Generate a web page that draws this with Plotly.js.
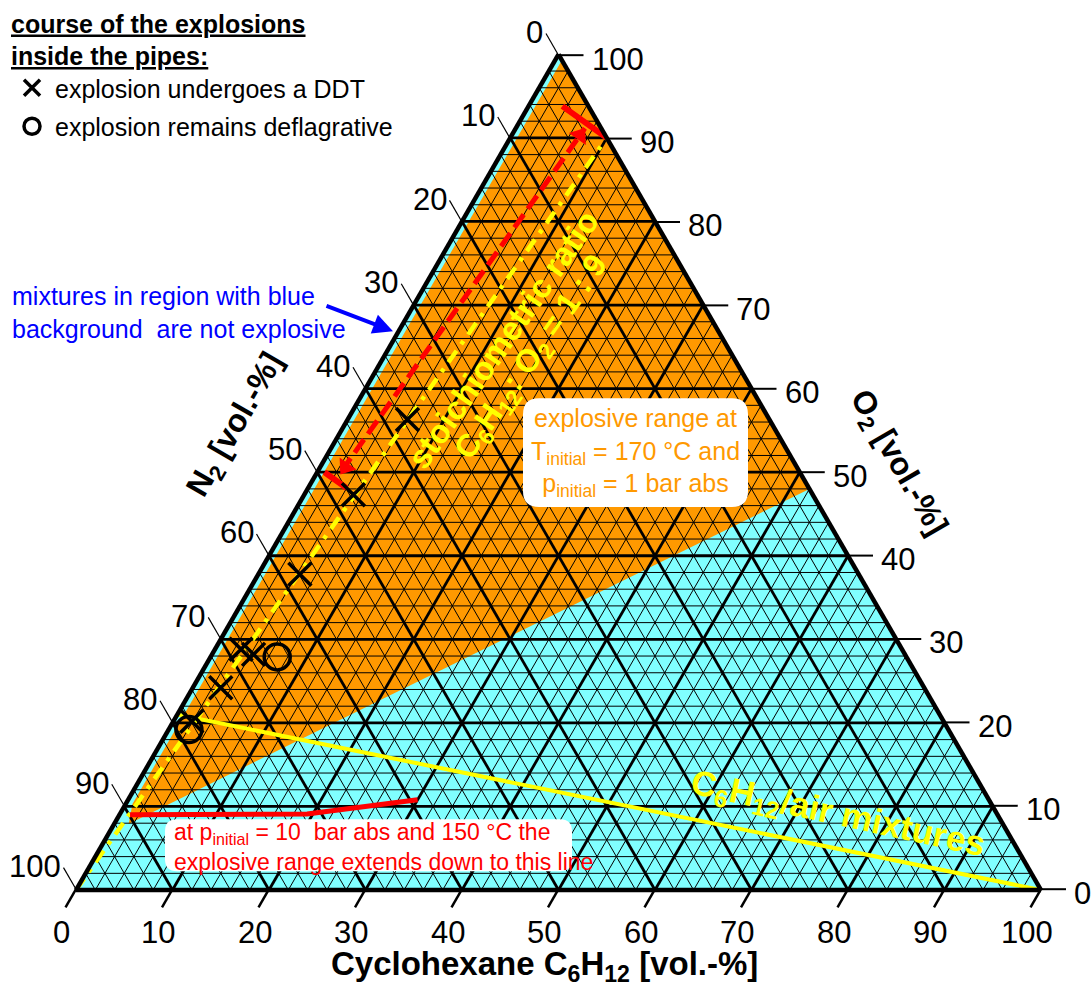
<!DOCTYPE html>
<html><head><meta charset="utf-8">
<script src="https://cdn.plot.ly/plotly-3.0.1.min.js"></script>
<style>html,body{margin:0;padding:0;background:#fff}</style>
</head><body><div id="chart" style="width:1092px;height:988px"></div>
<script>
// ---- data (vol.-%): O2 (top), N2 (bottom-left), C6H12 (bottom-right) ----
const tickValues = [0,10,20,30,40,50,60,70,80,90,100];

// explosions undergoing a DDT
const ddtO2 = [56.3, 47.3, 37.8, 28.8, 28.2, 24.2, 20.2];
const ddtN2 = [37.5, 47.6, 57.9, 68.5, 67.5, 72.9, 77.9];
const ddtC  = [6.2, 5.1, 4.3, 2.7, 4.3, 2.9, 1.9];
// explosions remaining deflagrative
const deflO2 = [27.9, 19.2];
const deflN2 = [65.2, 78.7];
const deflC  = [6.9, 2.1];
// explosive range at 170 °C, 1 bar abs
const explO2 = [99.3, 10.3, 7.9, 48.0];
const explN2 = [0.0, 89.0, 90.6, 0.0];
const explC  = [0.7, 0.7, 1.5, 52.0];
// C6H12/air mixtures
const airO2 = [21, 0];
const airN2 = [79, 0];
const airC  = [0, 100];
// stoichiometric ratio C6H12 : O2 = 1 : 9
const stoO2 = [0, 90];
const stoN2 = [100, 0];
const stoC  = [0, 10];
// lower limit at 10 bar abs and 150 °C
const p10O2 = [9.0, 9.1, 10.8];
const p10N2 = [89.9, 71.5, 59.2];
const p10C  = [1.1, 19.4, 30.0];
// red dimension arrow
const arrO2 = [50.1, 91.15];
const arrN2 = [47.45, 1.69];
const arrC  = [2.45, 7.16];
const headO2 = [50.6, 90.3];
const headN2 = [46.77, 2.63];
const headC  = [2.63, 7.07];
const barTopO2 = [93.8, 90.0], barTopN2 = [2.7, 0.0], barTopC = [3.5, 10.0];
const barBotO2 = [50.0, 48.1], barBotN2 = [49.25, 47.9], barBotC = [0.75, 4.0];

const W = 1092, H = 988;
const FONT = 'Liberation Sans, Arial, sans-serif';
const px = x => x / W, py = y => 1 - y / H;

// triangle frame (pixels) -> ternary domain
const BLX = 76, BRX = 1041, BASEY = 889;
const SIDE = BRX - BLX, HT = SIDE * Math.sqrt(3) / 2;
const CY = BASEY - HT / 2;
const domX = [px(BLX), px(BRX)];
const domY = [py(CY) - 0.44, py(CY) + 0.44];
// same projection the ternary uses (a = O2, c = C6H12)
function proj(a, c) {
  return {x: BLX + c / 100 * SIDE + a / 100 * SIDE / 2, y: BASEY - a / 100 * HT};
}

function grid(step, width) {
  const a = [], b = [], c = [];
  for (let v = step; v < 100; v += step) {
    a.push(v, v, null);         b.push(100 - v, 0, null);   c.push(0, 100 - v, null);
    a.push(100 - v, 0, null);   b.push(v, v, null);         c.push(0, 100 - v, null);
    a.push(100 - v, 0, null);   b.push(0, 100 - v, null);   c.push(v, v, null);
  }
  return {type:'scatterternary', mode:'lines', a:a, b:b, c:c,
          line:{color:'black', width:width}, hoverinfo:'skip', showlegend:false};
}
function seg(a, b, c, color, width, dash) {
  return {type:'scatterternary', mode:'lines', a:a, b:b, c:c,
          line:{color:color, width:width, dash:dash || 'solid'}, hoverinfo:'skip', showlegend:false};
}

const traces = [
  {type:'scatterternary', mode:'lines', a:explO2, b:explN2, c:explC, fill:'toself',
   fillcolor:'#FF9900', line:{width:0, color:'#FF9900'}, hoverinfo:'skip', showlegend:false},
  grid(2, 1),
  grid(10, 2.8),
  seg(stoO2, stoN2, stoC, '#FFFF00', 4.5, '14px,8px,4px,8px'),
  seg(arrO2, arrN2, arrC, '#FF0000', 5, '16px,7px'),
  seg(barTopO2, barTopN2, barTopC, '#FF0000', 6),
  seg(barBotO2, barBotN2, barBotC, '#FF0000', 6),
  {type:'scatterternary', mode:'markers', a:headO2, b:headN2, c:headC,
   marker:{symbol:'triangle-up', size:18, color:'#FF0000', angle:[215, 35], line:{width:0}},
   hoverinfo:'skip', showlegend:false},
  seg(airO2, airN2, airC, '#FFFF00', 4),
  seg(p10O2, p10N2, p10C, '#FF0000', 5),
  {type:'scatterternary', mode:'markers', name:'explosion undergoes a DDT',
   a:ddtO2, b:ddtN2, c:ddtC, legendgroup:'g1',
   marker:{symbol:'x-thin-open', size:23, color:'black', line:{width:3.5, color:'black'}}},
  {type:'scatterternary', mode:'markers', name:'explosion remains deflagrative',
   a:deflO2, b:deflN2, c:deflC, legendgroup:'g2',
   marker:{symbol:'circle-open', size:26, color:'black', line:{width:3.5, color:'black'}}}
];

function axis() {
  return {ticks:'', showticklabels:false, showgrid:false, linewidth:4.5, linecolor:'black',
          layer:'above traces', min:0, title:{text:''}};
}

function roundRect(x0, y0, x1, y1, r) {
  const P = (x, y) => px(x) + ',' + py(y);
  return 'M' + P(x0 + r, y0) + ' L' + P(x1 - r, y0) + ' Q' + P(x1, y0) + ' ' + P(x1, y0 + r) +
         ' L' + P(x1, y1 - r) + ' Q' + P(x1, y1) + ' ' + P(x1 - r, y1) +
         ' L' + P(x0 + r, y1) + ' Q' + P(x0, y1) + ' ' + P(x0, y1 - r) +
         ' L' + P(x0, y0 + r) + ' Q' + P(x0, y0) + ' ' + P(x0 + r, y0) + ' Z';
}

function ann(text, x, y, size, color, extra) {
  return Object.assign({text:text, x:px(x), y:py(y), xref:'paper', yref:'paper',
    xanchor:'center', yanchor:'middle', showarrow:false,
    font:{family:FONT, size:size, color:color}}, extra || {});
}

const shapes = [
  {type:'path', xref:'paper', yref:'paper', layer:'above', path:roundRect(523, 397, 748, 506, 16),
   fillcolor:'white', line:{width:0}},
  {type:'path', xref:'paper', yref:'paper', layer:'above', path:roundRect(165, 819, 572, 871, 12),
   fillcolor:'white', line:{width:0}}
];
const annotations = [];

// ---- axis ticks and tick labels, oriented along the grid lines as in the original ----
const TL = 25, LBL = 31;
function tickLine(p, e, w) {
  shapes.push({type:'line', xref:'paper', yref:'paper', layer:'above',
    x0:px(p.x), y0:py(p.y), x1:px(e.x), y1:py(e.y), line:{color:'black', width:w}});
}
tickValues.forEach(v => {
  // N2 on the left edge (C6H12 = 0)
  let p = proj(100 - v, 0);
  let e = {x:p.x - 0.5 * TL, y:p.y - 0.866 * TL};
  tickLine(p, e, 1.2);
  annotations.push(ann(String(v), e.x - 2, e.y - 1, LBL, 'black', {xanchor:'right', borderpad:0}));
  // O2 on the right edge (N2 = 0)
  p = proj(v, 100 - v);
  e = {x:p.x + TL, y:p.y};
  tickLine(p, e, 2);
  annotations.push(ann(String(v), e.x + 7, e.y + 4, LBL, 'black', {xanchor:'left', borderpad:0}));
  // C6H12 on the bottom edge (O2 = 0)
  p = proj(0, v);
  e = {x:p.x - 0.5 * 21, y:p.y + 0.866 * 21};
  tickLine(p, e, 2.5);
  annotations.push(ann(String(v), e.x - 4, e.y + 25, LBL, 'black', {borderpad:0}));
});

annotations.push(
  ann('mixtures in region with blue<br>background  are not explosive', 10, 311, 25, '#0000FF',
      {xanchor:'left', align:'left'}),
  ann('', 393, 330, 12, '#0000FF', {showarrow:true, ax:-68, ay:-26, arrowcolor:'#0000FF',
      arrowwidth:4, arrowhead:2, arrowsize:1}),
  ann('<b>stoichiometric ratio</b>', 503, 338, 33, '#FFFF00', {textangle:-55}),
  ann('<b>C<sub>6</sub>H<sub>12</sub>: O<sub>2</sub> = 1 : 9</b>', 532, 357, 32, '#FFFF00', {textangle:-55}),
  ann('explosive range at<br>T<sub>initial</sub> = 170 °C and<br>p<sub>initial</sub> = 1 bar abs',
      635.5, 451, 25, '#FF9900', {align:'center'}),
  ann('at p<sub>initial</sub> = 10  bar abs and 150 °C the<br>explosive range extends down to this line',
      172, 847, 23, '#FF0000', {xanchor:'left', align:'left'}),
  ann('<b>C<sub>6</sub>H<sub>12</sub>/air mixtures</b>', 838, 815, 35, '#FFFF00', {textangle:12.2}),
  ann('<b>Cyclohexane C<sub>6</sub>H<sub>12</sub> [vol.-%]</b>', 544, 966, 33, 'black', {borderpad:0}),
  ann('<b>N<sub>2</sub> [vol.-%]</b>', 236, 424, 32, 'black', {textangle:-60}),
  ann('<b>O<sub>2</sub> [vol.-%]</b>', 898, 462, 32, 'black', {textangle:60})
);

const layout = {
  width:W, height:H, margin:{l:0, r:0, t:0, b:0}, paper_bgcolor:'white',
  showlegend:true, hovermode:false,
  legend:{x:px(9), y:py(-2), xanchor:'left', yanchor:'top', bgcolor:'rgba(0,0,0,0)',
          itemwidth:36, font:{family:FONT, size:25, color:'black'}, tracegroupgap:3,
          title:{text:'<b><u>course of the explosions</u><br><u>inside the pipes:</u></b>',
                 font:{family:FONT, size:25, color:'black'}}},
  ternary:{sum:100, bgcolor:'#80FFFF', domain:{x:domX, y:domY},
           aaxis:axis(), baxis:axis(), caxis:axis()},
  shapes:shapes,
  annotations:annotations
};

Plotly.newPlot('chart', traces, layout, {displayModeBar:false, staticPlot:true});
</script>
</body></html>
